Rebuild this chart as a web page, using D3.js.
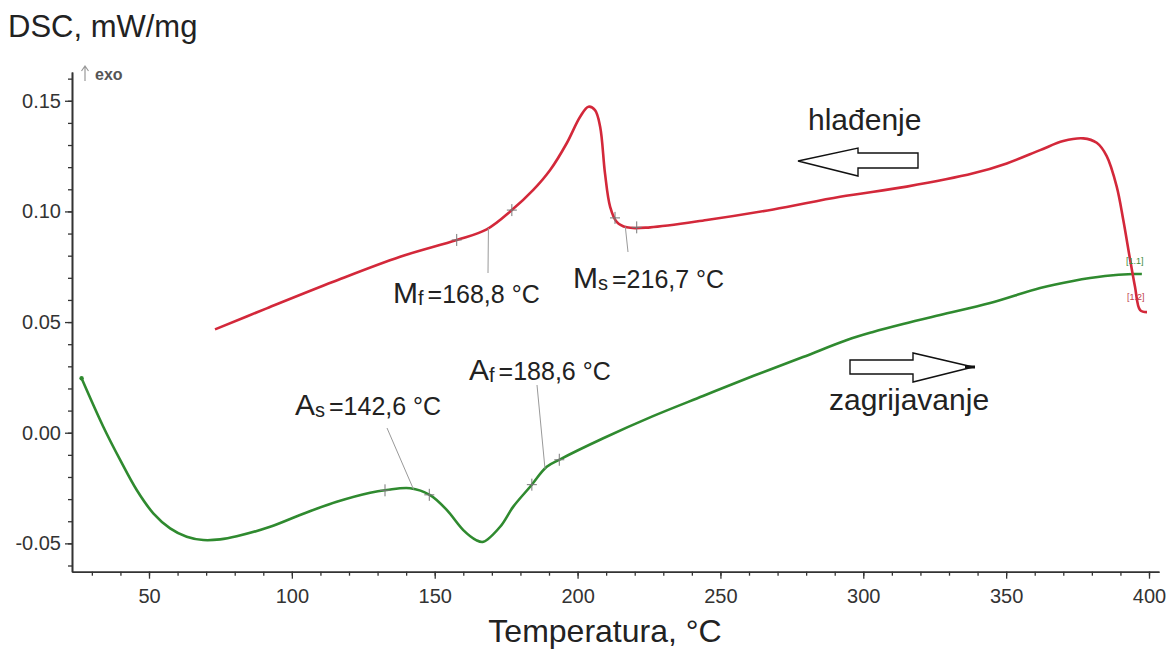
<!DOCTYPE html>
<html>
<head>
<meta charset="utf-8">
<script src="https://cdn.jsdelivr.net/npm/d3@7"></script>
<style>
  html, body { margin: 0; padding: 0; background: #fff; }
  svg { display: block; }
  text { font-family: "Liberation Sans", Arial, sans-serif; }
</style>
</head>
<body>
<svg id="chart" width="1171" height="650"></svg>
<script>
// ---------------- data ----------------
const xMajorTicks = [50, 100, 150, 200, 250, 300, 350, 400];
const yMajorTicks = [-0.05, 0.00, 0.05, 0.10, 0.15];

// heating (zagrijavanje) - green
const heatingT   = [26.4, 34.0, 39.9, 45.7, 51.5, 57.4, 63.2, 69.0, 74.9, 80.7, 92.4, 104.0, 115.7, 127.4, 133.2, 141.4, 148.4, 154.2, 160.0, 164.5, 167.0, 172.9, 177.5, 183.4, 189.2, 193.9, 209.0, 226.4, 243.9, 261.4, 278.9, 294.3, 303.4, 313.9, 326.9, 344.4, 361.9, 373.4, 384.6, 394.4, 397.5];
const heatingDSC = [0.0246, 0.0027, -0.0123, -0.0259, -0.0364, -0.0432, -0.0470, -0.0485, -0.0482, -0.0468, -0.0425, -0.0366, -0.0312, -0.0271, -0.0259, -0.0251, -0.0282, -0.0349, -0.0440, -0.0485, -0.0493, -0.0425, -0.0334, -0.0244, -0.0154, -0.0120, -0.0025, 0.0075, 0.0166, 0.0256, 0.0342, 0.0419, 0.0455, 0.0491, 0.0532, 0.0586, 0.0654, 0.0686, 0.0708, 0.0717, 0.0717];

// cooling (hlađenje) - red
const coolingT   = [73.1, 91.2, 114.5, 137.9, 157.7, 168.2, 177.0, 184.5, 190.4, 196.2, 200.9, 203.8, 206.1, 207.9, 209.6, 211.4, 213.7, 217.2, 225.4, 245.2, 268.5, 291.9, 315.2, 338.5, 350.2, 361.9, 370.0, 377.0, 381.7, 385.2, 388.7, 391.0, 393.4, 395.1, 396.9, 399.3];
const coolingDSC = [0.0467, 0.0562, 0.0682, 0.0795, 0.0871, 0.0919, 0.1006, 0.1097, 0.1187, 0.1308, 0.1428, 0.1473, 0.1458, 0.1383, 0.1172, 0.1021, 0.0953, 0.0928, 0.0928, 0.0961, 0.1009, 0.1066, 0.1112, 0.1172, 0.1217, 0.1277, 0.1318, 0.1330, 0.1310, 0.1250, 0.1112, 0.0961, 0.0781, 0.0660, 0.0554, 0.0545];

// characteristic temperatures
const annSymbols = ["M", "M", "A", "A"];
const annSubs    = ["f", "s", "s", "f"];
const annValues  = ["=168,8 °C", "=216,7 °C", "=142,6 °C", "=188,6 °C"];
const annTemps   = [168.8, 216.7, 142.6, 188.6];
const annSeries  = ["cooling", "cooling", "heating", "heating"];

// evaluation markers (+)
const heatingMarkT = [132.6, 148.1, 184.0, 193.6];
const coolingMarkT = [157.7, 177.0, 213.1, 220.7];

// ---------------- layout ----------------
const svg = d3.select("#chart");
const x = d3.scaleLinear().domain([23.05, 403.5]).range([72, 1159]);
const y = d3.scaleLinear().domain([-0.0628, 0.163]).range([571.7, 72]);

const GREEN = "#2f8a2f", RED = "#d3283a", AXIS = "#333";

// axes
const yMinor = d3.range(-6, 17).map(d => d / 100);
const xMinor = d3.range(30, 401, 10);

const gy = svg.append("g").attr("transform", "translate(72,0)");
gy.call(d3.axisLeft(y).tickValues(yMinor).tickSize(4).tickSizeOuter(0).tickFormat(""));
const gyM = svg.append("g").attr("transform", "translate(72,0)");
gyM.call(d3.axisLeft(y).tickValues(yMajorTicks).tickSize(7).tickSizeOuter(0).tickPadding(4)
  .tickFormat(d => d.toFixed(2)));

const gx = svg.append("g").attr("transform", "translate(0,571.7)");
gx.call(d3.axisBottom(x).tickValues(xMinor).tickSize(4).tickSizeOuter(0).tickFormat(""));
const gxM = svg.append("g").attr("transform", "translate(0,571.7)");
gxM.call(d3.axisBottom(x).tickValues(xMajorTicks).tickSize(7).tickSizeOuter(0).tickPadding(10)
  .tickFormat(d3.format("d")));

svg.selectAll(".domain").attr("stroke", AXIS).attr("stroke-width", 1.6);
svg.selectAll(".tick line").attr("stroke", AXIS).attr("stroke-width", 1.3);
gyM.selectAll(".tick text").attr("font-size", 20).attr("fill", "#333")
  .attr("font-family", "'Liberation Sans', Arial, sans-serif");
gxM.selectAll(".tick text").attr("font-size", 20).attr("fill", "#333")
  .attr("font-family", "'Liberation Sans Narrow', 'Liberation Sans', Arial, sans-serif");

// titles
svg.append("text").attr("x", 8).attr("y", 37).attr("font-size", 31).attr("fill", "#222")
  .text("DSC, mW/mg");
// exo arrow
svg.append("path").attr("d", "M85,81 L85,67 M81.5,71 L85,66 L88.5,71")
  .attr("fill", "none").attr("stroke", "#999").attr("stroke-width", 1.2);
svg.append("text").attr("x", 95).attr("y", 80).attr("font-size", 16).attr("font-weight", "bold")
  .attr("fill", "#555").text("exo");
svg.append("text").attr("x", 605).attr("y", 642).attr("text-anchor", "middle")
  .attr("font-size", 32).attr("fill", "#222").text("Temperatura, °C");

// curves
const heating = heatingT.map((t, i) => [t, heatingDSC[i]]);
const cooling = coolingT.map((t, i) => [t, coolingDSC[i]]);
const line = d3.line().x(d => x(d[0])).y(d => y(d[1])).curve(d3.curveCatmullRom.alpha(0.5));

svg.append("path").datum(heating).attr("d", line).attr("fill", "none")
  .attr("stroke", GREEN).attr("stroke-width", 2.6).attr("stroke-linejoin", "round");
svg.append("path").datum(cooling).attr("d", line).attr("fill", "none")
  .attr("stroke", RED).attr("stroke-width", 2.6).attr("stroke-linejoin", "round");

// start marker on green curve
svg.append("circle").attr("cx", x(heatingT[0])).attr("cy", y(heatingDSC[0])).attr("r", 2.2).attr("fill", GREEN);

// interpolation helper
function valueAt(T, data) {
  for (let i = 0; i < data.length - 1; i++) {
    if (T >= data[i][0] && T <= data[i + 1][0]) {
      const f = (T - data[i][0]) / (data[i + 1][0] - data[i][0]);
      return data[i][1] + f * (data[i + 1][1] - data[i][1]);
    }
  }
  return data[data.length - 1][1];
}

// + markers
function crosses(ts, data) {
  ts.forEach(t => {
    const cx = x(t), cy = y(valueAt(t, data));
    svg.append("line").attr("x1", cx - 5).attr("x2", cx + 5).attr("y1", cy).attr("y2", cy)
      .attr("stroke", "#777").attr("stroke-width", 1);
    svg.append("line").attr("x1", cx).attr("x2", cx).attr("y1", cy - 6).attr("y2", cy + 6)
      .attr("stroke", "#777").attr("stroke-width", 1);
  });
}
crosses(heatingMarkT, heating);
crosses(coolingMarkT, cooling);

// annotation labels & leader lines
const labelPos = [
  { lx: 393, ly: 303, endX: 488, endY: 273 },
  { lx: 573, ly: 288, endX: 628, endY: 252 },
  { lx: 295, ly: 415, endX: 387, endY: 428 },
  { lx: 469, ly: 380, endX: 537, endY: 385 }
];
annTemps.forEach((t, i) => {
  const data = annSeries[i] === "cooling" ? cooling : heating;
  const cx = x(t), cy = y(valueAt(t, data));
  const p = labelPos[i];
  svg.append("line").attr("x1", cx).attr("y1", cy).attr("x2", p.endX).attr("y2", p.endY)
    .attr("stroke", "#999").attr("stroke-width", 1);
  const tx = svg.append("text").attr("x", p.lx).attr("y", p.ly).attr("fill", "#222");
  tx.append("tspan").attr("font-size", 30).text(annSymbols[i]);
  tx.append("tspan").attr("font-size", 20).attr("dy", 2).text(annSubs[i]);
  tx.append("tspan").attr("font-size", 25).attr("dy", -2).attr("dx", 4).text(annValues[i]);
});

// direction arrows
svg.append("polygon")
  .attr("points", "798,161 858,148 858,153 918,153 918,168 858,168 858,176")
  .attr("fill", "#fff").attr("stroke", "#111").attr("stroke-width", 1.4);
svg.append("text").attr("x", 808).attr("y", 130).attr("font-size", 30).attr("fill", "#222").text("hlađenje");

svg.append("polygon")
  .attr("points", "850,360 913,360 913,353 973,367 913,382 913,374 850,374")
  .attr("fill", "#fff").attr("stroke", "#111").attr("stroke-width", 1.4);
svg.append("line").attr("x1", 965).attr("x2", 975).attr("y1", 367).attr("y2", 367)
  .attr("stroke", "#111").attr("stroke-width", 3);
svg.append("text").attr("x", 829).attr("y", 410).attr("font-size", 30).attr("fill", "#222").text("zagrijavanje");

// segment tags
svg.append("text").attr("x", 1126).attr("y", 264).attr("font-size", 9).attr("fill", "#3a8a3a").text("[1.1]");
svg.append("text").attr("x", 1127).attr("y", 300).attr("font-size", 9).attr("fill", "#c0404a").text("[1.2]");
</script>
</body>
</html>
